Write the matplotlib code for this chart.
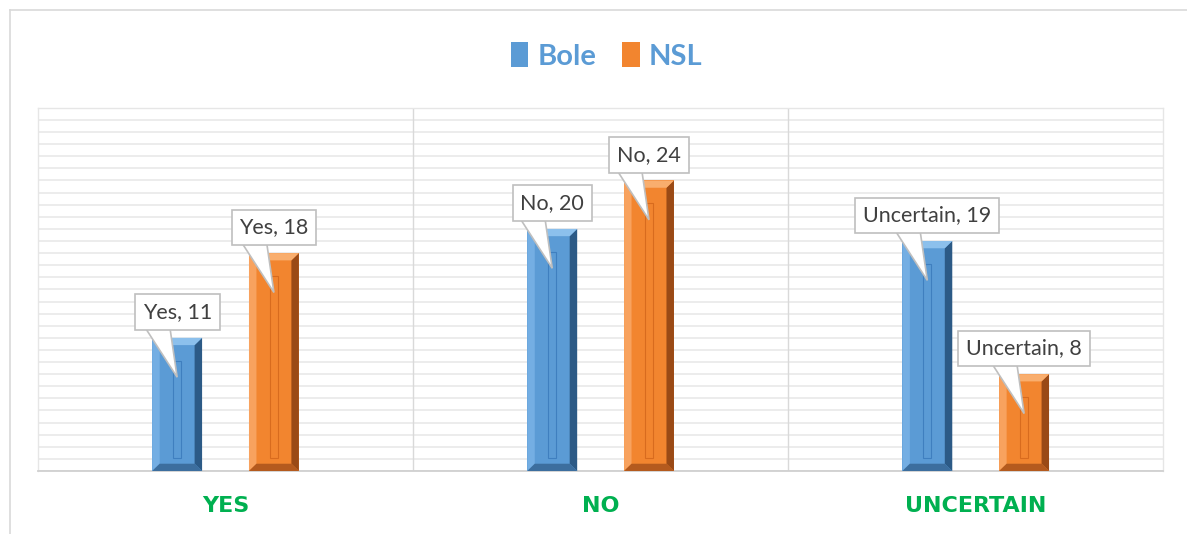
import matplotlib
matplotlib.use("Agg")
import matplotlib.pyplot as plt
from matplotlib.patches import Polygon, Rectangle
from matplotlib.lines import Line2D
from matplotlib.transforms import Affine2D, ScaledTranslation
import numpy as np

categories = ["YES", "NO", "UNCERTAIN"]
label_names = ["Yes", "No", "Uncertain"]
series_names = ["Bole", "NSL"]
bole = [11, 20, 19]
nsl = [18, 24, 8]

FONT = "Lato"
plt.rcParams["font.family"] = [FONT, "DejaVu Sans"]

fig = plt.figure(figsize=(11.87, 5.34), dpi=100)
ax = fig.add_axes([0.032, 0.118, 0.948, 0.680])

x = np.arange(len(categories))
off = 0.129
w = 0.133
styles = {
    "Bole": dict(face="#5B9BD5", left="#74AEE3", right="#2C5A86", top="#8CC0EC", bottom="#3C6E9E", inner="#3F7FBF"),
    "NSL": dict(face="#F2852F", left="#F8A25E", right="#9A4A16", top="#F9AE6E", bottom="#B45A1E", inner="#D86B1E"),
}

bars_all = []
for vals, name, sgn in [(bole, "Bole", -1), (nsl, "NSL", 1)]:
    st = styles[name]
    bars = ax.bar(x + sgn * off, vals, width=w, color=st["face"], zorder=3, label=name)
    bars_all.append(bars)
    for b in bars:
        x0, bw, h = b.get_x(), b.get_width(), b.get_height()
        dx = bw * 0.15
        dy = 0.6
        x1 = x0 + bw
        ax.add_patch(Polygon([(x0, 0), (x0 + dx, dy), (x0 + dx, h - dy), (x0, h)], closed=True,
                             fc=st["left"], ec="none", zorder=4))
        ax.add_patch(Polygon([(x1, 0), (x1 - dx, dy), (x1 - dx, h - dy), (x1, h)], closed=True,
                             fc=st["right"], ec="none", zorder=4))
        ax.add_patch(Polygon([(x0, h), (x0 + dx, h - dy), (x1 - dx, h - dy), (x1, h)], closed=True,
                             fc=st["top"], ec="none", zorder=4))
        ax.add_patch(Polygon([(x0, 0), (x0 + dx, dy), (x1 - dx, dy), (x1, 0)], closed=True,
                             fc=st["bottom"], ec="none", zorder=4))
        ax.add_patch(Rectangle((x0 + bw * 0.42, dy + 0.5), bw * 0.16, max(h - 2 * dy - 1.8, 0),
                               fc="none", ec=st["inner"], lw=0.8, zorder=5))

# callouts: tip sits inside the bar, box above it; geometry in pixels (dpi 100)
TIP_DROP = 3.25          # data units below the bar top
BOX_DY = 65              # px from tip to box center
BASE_Y = 44              # px from tip to wedge base (hidden under box bottom)
BASE_X = (-31, -7)       # px, wedge base span relative to tip
px2pt = 72 / fig.dpi
for bars, vals in [(bars_all[0], bole), (bars_all[1], nsl)]:
    for i, (b, v) in enumerate(zip(bars, vals)):
        cx = b.get_x() + b.get_width() / 2
        ty = v - TIP_DROP
        trans = Affine2D().scale(1 / 72) + fig.dpi_scale_trans + ScaledTranslation(cx, ty, ax.transData)
        verts = [(0, 0), (BASE_X[0] * px2pt, (BASE_Y + 4) * px2pt),
                 (BASE_X[1] * px2pt, (BASE_Y + 4) * px2pt)]
        ax.add_patch(Polygon(verts, closed=True, fc="white", ec="#BFBFBF", lw=1.2,
                             transform=trans, zorder=9, clip_on=False))
        ax.annotate(f"{label_names[i]}, {v}",
                    xy=(cx, ty), xycoords="data",
                    xytext=(0, BOX_DY * px2pt), textcoords="offset points",
                    ha="center", va="center", fontsize=15.5, color="#404040",
                    bbox=dict(boxstyle="square,pad=0.36", fc="white", ec="#BFBFBF", lw=1.2),
                    zorder=10)

ax.set_xlim(-0.5, 2.5)
ax.set_ylim(0, 30)
ax.set_yticks(np.arange(0, 31, 1))
ax.yaxis.grid(True, color="#EBEBEB", lw=1.3, zorder=0)
ax.set_axisbelow(True)
ax.tick_params(axis="y", left=False, labelleft=False)
ax.set_xticks(x)
ax.set_xticklabels(categories, fontsize=16, fontweight="bold", color="#00B050")
ax.tick_params(axis="x", length=0, pad=18)
for lbl in ax.get_xticklabels():
    lbl.set_fontfamily(["DejaVu Sans"])
for sep in [0.5, 1.5]:
    ax.axvline(sep, color="#D9D9D9", lw=1.0, zorder=1)
for s in ["top", "left", "right"]:
    ax.spines[s].set_color("#E6E6E6")
    ax.spines[s].set_linewidth(1.0)
ax.spines["bottom"].set_color("#D0D0D0")
ax.spines["bottom"].set_linewidth(1.3)

leg = fig.legend(handles=[bars_all[0], bars_all[1]], labels=series_names, loc="center",
                 bbox_to_anchor=(0.511, 0.895), ncol=2, frameon=False,
                 handlelength=0.6, handleheight=0.9, handletextpad=0.3, columnspacing=0.9,
                 prop=dict(family=FONT, weight="bold", size=21))
for t in leg.get_texts():
    t.set_color("#5B9BD5")

# outer chart border
fig.add_artist(Line2D([10 / 1187, 1.0], [1 - 10 / 534, 1 - 10 / 534], transform=fig.transFigure,
                      color="#D9D9D9", lw=1.2))
fig.add_artist(Line2D([10 / 1187, 10 / 1187], [0.0, 1 - 10 / 534], transform=fig.transFigure,
                      color="#D9D9D9", lw=1.2))

fig.savefig("out.png", dpi=100)
